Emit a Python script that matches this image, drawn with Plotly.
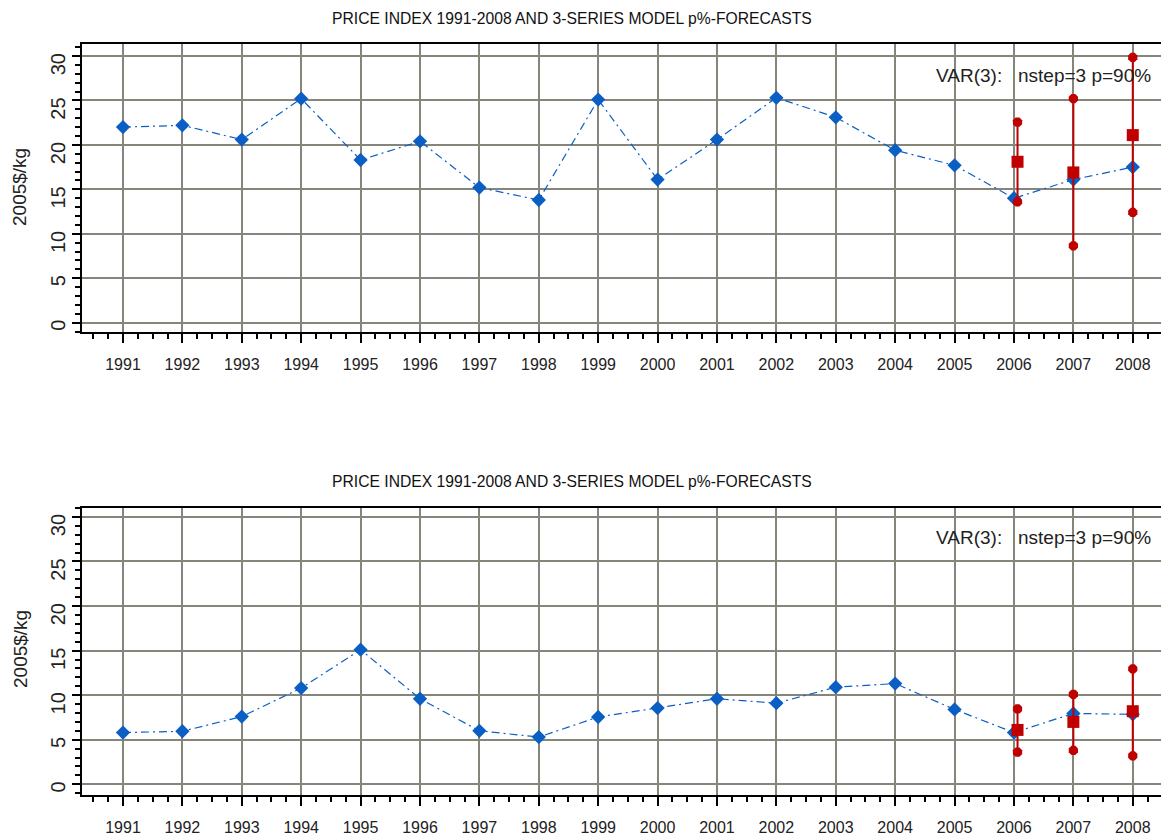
import plotly.graph_objects as go

years = list(range(1991, 2009))

# top panel
price_top = [22.0, 22.2, 20.6, 25.2, 18.3, 20.4, 15.2, 13.8, 25.1, 16.1,
             20.6, 25.3, 23.1, 19.4, 17.7, 14.0, 16.1, 17.5]
fc_x = [2006.06, 2007.0, 2008.0]
fc_top_mid = [18.1, 16.9, 21.1]
fc_top_lo = [13.6, 8.65, 12.4]
fc_top_hi = [22.55, 25.2, 29.85]

# bottom panel
price_bot = [5.8, 5.95, 7.6, 10.8, 15.1, 9.6, 6.0, 5.3, 7.55, 8.55,
             9.6, 9.1, 10.9, 11.3, 8.4, 5.8, 7.95, 7.85]
fc_bot_mid = [6.1, 7.0, 8.2]
fc_bot_lo = [3.6, 3.8, 3.2]
fc_bot_hi = [8.45, 10.1, 12.95]

title_text = "PRICE INDEX 1991-2008 AND 3-SERIES MODEL p%-FORECASTS"
note_text = "VAR(3):   nstep=3 p=90%"
ytitle = "2005$/kg"

BLUE = "#0b5fc4"
RED = "#c00000"
GRID = "#86857a"
FONT = "Liberation Sans, Arial, sans-serif"

# page has an 8px body margin, so the figure is laid out 8px smaller
W, H = 1161, 828

fig = go.Figure()


def add_panel(fig, price, mid, lo, hi, xa, ya):
    fig.add_trace(go.Scatter(
        x=years, y=price, xaxis=xa, yaxis=ya, mode="lines+markers",
        line=dict(color=BLUE, width=1.2, dash="8px,4px,2px,4px"),
        marker=dict(symbol="diamond", size=11, color=BLUE),
        showlegend=False))
    for x, l, h in zip(fc_x, lo, hi):
        fig.add_trace(go.Scatter(
            x=[x, x], y=[l, h], xaxis=xa, yaxis=ya, mode="lines+markers",
            line=dict(color=RED, width=2),
            marker=dict(symbol="octagon", size=10, color=RED),
            showlegend=False))
    fig.add_trace(go.Scatter(
        x=fc_x, y=mid, xaxis=xa, yaxis=ya, mode="markers",
        marker=dict(symbol="square", size=12, color=RED),
        showlegend=False))


add_panel(fig, price_top, fc_top_mid, fc_top_lo, fc_top_hi, "x", "y")
add_panel(fig, price_bot, fc_bot_mid, fc_bot_lo, fc_bot_hi, "x2", "y2")

xcommon = dict(
    range=[1990.31, 2008.61], tick0=1991, dtick=1, showgrid=True,
    gridcolor=GRID, gridwidth=2, zeroline=False, showline=True,
    linecolor="black", linewidth=2, mirror=True, ticks="outside",
    ticklen=9, tickwidth=2, tickcolor="black", ticklabelstandoff=8,
    tickangle=0, automargin=False,
    tickfont=dict(family=FONT, size=16, color="#222"),
    minor=dict(dtick=0.25, ticklen=5, tickcolor="black", ticks="outside",
               showgrid=False),
    domain=[74 / W, 1.0])
ycommon = dict(
    tick0=0, dtick=5, showgrid=True, gridcolor=GRID, gridwidth=2,
    zeroline=False, showline=True, linecolor="black", linewidth=2,
    ticks="outside", ticklen=8, tickwidth=2, tickcolor="black",
    tickangle=-89.9, ticklabelstandoff=13, automargin=False,
    tickfont=dict(family=FONT, size=20, color="#222"),
    minor=dict(dtick=1, ticklen=5, tickcolor="black", ticks="outside",
               showgrid=False))

fig.update_layout(
    width=W, height=H, margin=dict(l=0, r=0, t=0, b=0),
    plot_bgcolor="white", paper_bgcolor="white",
    xaxis=dict(xcommon, anchor="y"),
    yaxis=dict(ycommon, range=[-1.05, 31.35],
               domain=[(H - 324) / H, (H - 36) / H], anchor="x"),
    xaxis2=dict(xcommon, anchor="y2"),
    yaxis2=dict(ycommon, range=[-1.2, 31.0],
                domain=[(H - 787) / H, (H - 500) / H], anchor="x2"),
)

for ty, ny, ay in [(11, 67, 179), (473, 529, 641)]:
    fig.add_annotation(text=title_text, x=564 / W, y=1 - ty / H,
                       xref="paper", yref="paper", showarrow=False,
                       xanchor="center", yanchor="middle",
                       font=dict(family=FONT, size=15.7, color="#111"))
    fig.add_annotation(text=note_text, x=1145 / W, y=1 - ny / H,
                       xref="paper", yref="paper", xanchor="right",
                       yanchor="middle", showarrow=False,
                       font=dict(family=FONT, size=19, color="#222"))
    fig.add_annotation(text=ytitle, x=12 / W, y=1 - ay / H,
                       xref="paper", yref="paper", textangle=-90,
                       xanchor="center", yanchor="middle", showarrow=False,
                       font=dict(family=FONT, size=19, color="#222"))

fig.write_html("out.html")
